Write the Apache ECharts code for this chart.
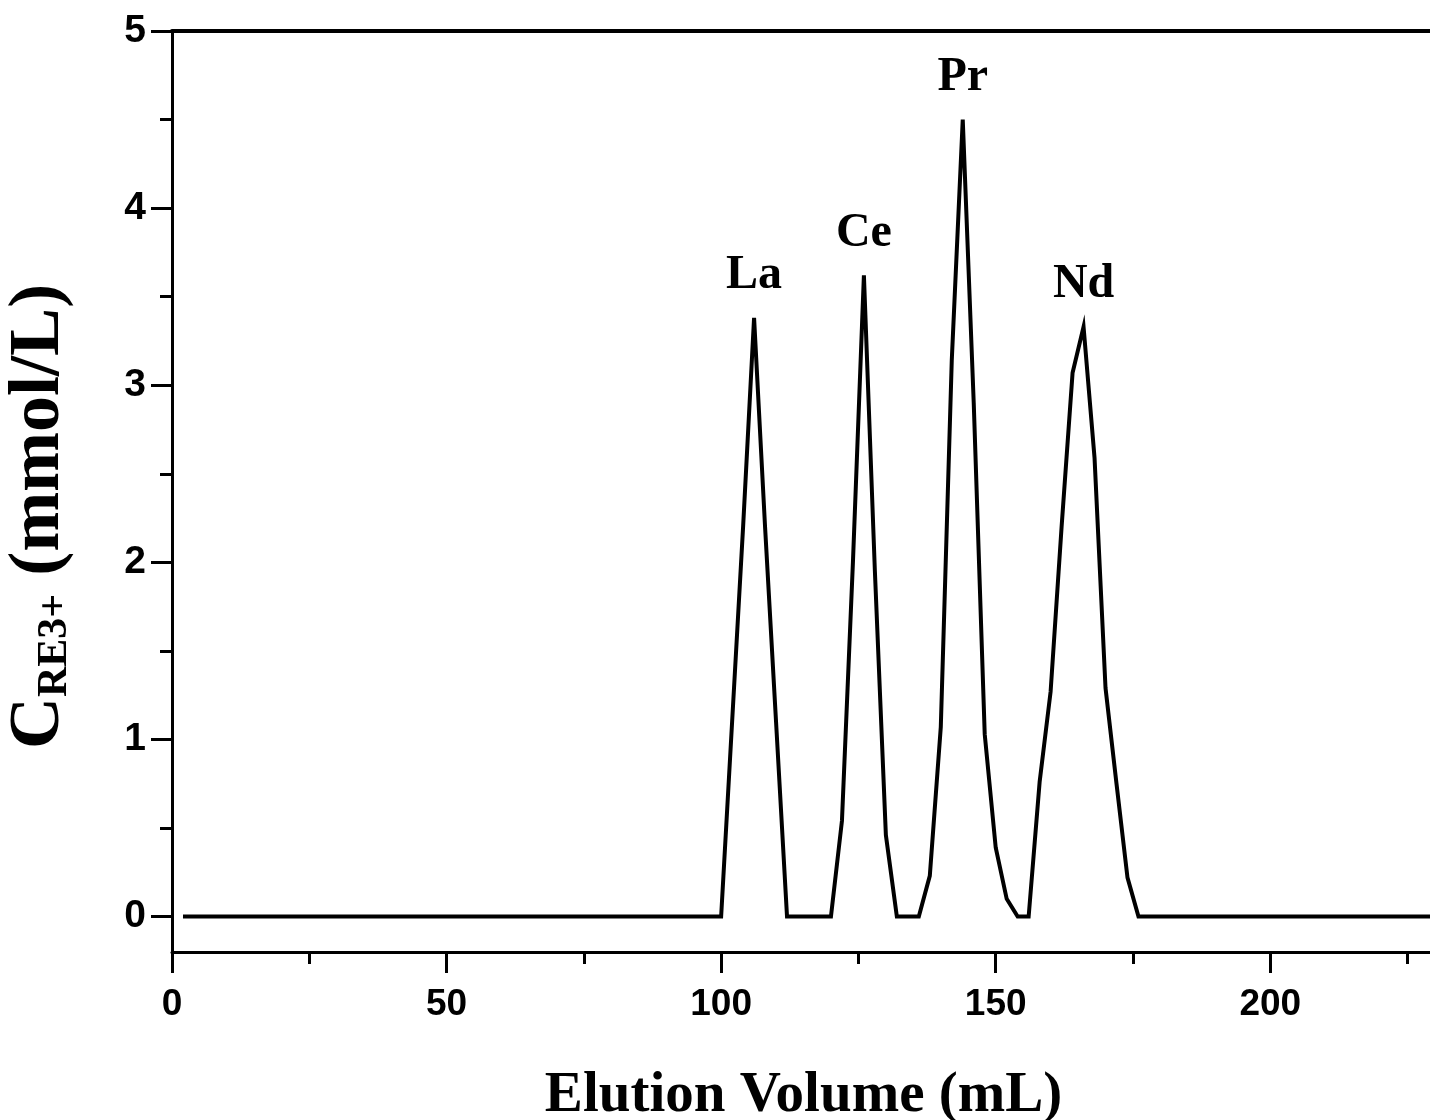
<!DOCTYPE html>
<html>
<head>
<meta charset="utf-8">
<title>Elution curve</title>
<script src="https://cdn.jsdelivr.net/npm/echarts@6/dist/echarts.min.js"></script>
<style>
  html, body { margin: 0; padding: 0; background: #fff; }
  #chart { width: 1430px; height: 1120px; }
</style>
</head>
<body>
<div id="chart"></div>
<script>
// elution volume (mL) and RE3+ concentration (mmol/L), vertices
const volume = [2, 100, 102, 104, 106, 108, 110, 112, 120, 122, 124, 126, 128, 130, 132,
  136, 138, 140, 142, 144, 146, 148, 150, 152, 154, 156, 158, 160, 162, 164, 166, 168,
  170, 172, 174, 176, 232];
const conc = [0, 0, 1.1, 2.2, 3.38, 2.2, 1.1, 0, 0, 0.54, 2.0, 3.62, 1.95, 0.46, 0,
  0, 0.23, 1.07, 3.14, 4.5, 2.9, 1.03, 0.39, 0.1, 0, 0, 0.76, 1.27, 2.2, 3.07, 3.33, 2.59,
  1.29, 0.75, 0.22, 0, 0];

// peak names and where they sit
const peakNames = ['La', 'Ce', 'Pr', 'Nd'];
const peakX = [106, 126, 144, 166];
const peakY = [3.38, 3.62, 4.5, 3.33];

const xMajor = [0, 50, 100, 150, 200];
const xMinor = [25, 75, 125, 175, 225];
const yMajor = [0, 1, 2, 3, 4, 5];
const yMinor = [0.5, 1.5, 2.5, 3.5, 4.5];

const chart = echarts.init(document.getElementById('chart'));

const line = { lineStyle: { color: '#000', width: 3 } };
const tickFont = { color: '#000', fontFamily: 'Liberation Sans', fontWeight: 'bold' };

chart.setOption({
  animation: false,
  grid: { left: 172, top: 31, width: 1263, height: 921, outerBoundsMode: 'none', containLabel: false },
  xAxis: [
    {
      type: 'value', min: 0, max: 230, position: 'bottom',
      axisLine: { show: true, onZero: false, ...line },
      axisTick: { customValues: xMajor, length: 21, lineStyle: { color: '#000', width: 3 } },
      axisLabel: { customValues: xMajor, margin: 34, fontSize: 37, ...tickFont },
      splitLine: { show: false },
      name: 'Elution Volume (mL)', nameLocation: 'middle', nameGap: 116,
      nameTextStyle: { fontFamily: 'Liberation Serif', fontWeight: 'bold', fontSize: 57, color: '#000' }
    },
    {
      type: 'value', min: 0, max: 230, position: 'bottom',
      axisLine: { show: false, onZero: false },
      axisTick: { customValues: xMinor, length: 12, lineStyle: { color: '#000', width: 3 } },
      axisLabel: { show: false },
      splitLine: { show: false }
    },
    {
      type: 'value', min: 0, max: 230, position: 'top',
      axisLine: { show: true, onZero: false, lineStyle: { color: '#000', width: 4 } },
      axisTick: { show: false }, axisLabel: { show: false }, splitLine: { show: false }
    }
  ],
  yAxis: [
    {
      type: 'value', min: -0.2, max: 5, position: 'left',
      axisLine: { show: true, onZero: false, ...line },
      axisTick: { customValues: yMajor, length: 21, lineStyle: { color: '#000', width: 3 } },
      axisLabel: { customValues: yMajor, margin: 26, fontSize: 39, ...tickFont },
      splitLine: { show: false },
      name: '{c|C}{s|RE3+}{c| (mmol/L)}', nameLocation: 'middle', nameGap: 96, nameRotate: 90,
      nameTextStyle: {
        padding: [0, 50, 0, 0],
        rich: {
          c: { fontFamily: 'Liberation Serif', fontWeight: 'bold', fontSize: 72, color: '#000' },
          s: { fontFamily: 'Liberation Serif', fontWeight: 'bold', fontSize: 42, color: '#000', verticalAlign: 'bottom', padding: [32, 0, 0, 0] }
        }
      }
    },
    {
      type: 'value', min: -0.2, max: 5, position: 'left',
      axisLine: { show: false, onZero: false },
      axisTick: { customValues: yMinor, length: 12, lineStyle: { color: '#000', width: 3 } },
      axisLabel: { show: false },
      splitLine: { show: false }
    }
  ],
  series: [
    {
      type: 'line',
      data: volume.map((v, i) => [v, conc[i]]),
      showSymbol: false,
      lineStyle: { color: '#000', width: 4, join: 'miter' },
      markPoint: {
        symbol: 'circle',
        symbolSize: 0,
        itemStyle: { color: '#000' },
        label: {
          show: true, position: 'top', distance: 18,
          formatter: '{b}',
          fontFamily: 'Liberation Serif', fontWeight: 'bold', fontSize: 48, color: '#000'
        },
        data: peakNames.map((n, i) => ({ name: n, coord: [peakX[i], peakY[i]] }))
      }
    }
  ]
});
</script>
</body>
</html>
